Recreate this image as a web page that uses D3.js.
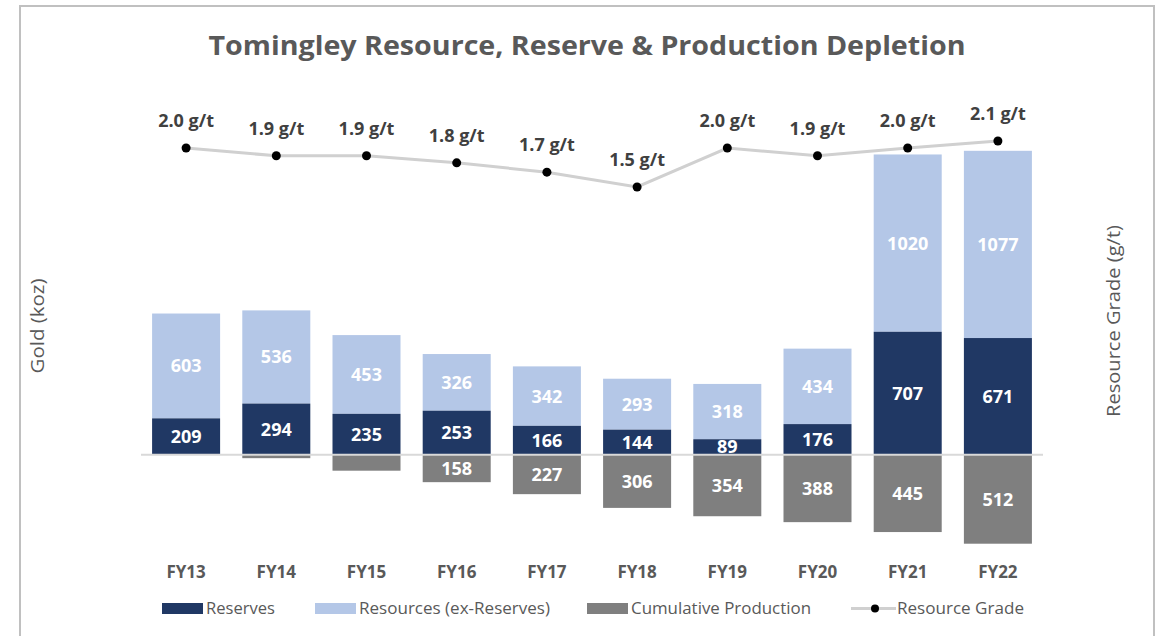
<!DOCTYPE html>
<html>
<head>
<meta charset="utf-8">
<script src="https://cdn.jsdelivr.net/npm/d3@7"></script>
<style>
  body { margin: 0; background: #fff; }
  text { font-family: "Open Sans", "DejaVu Sans", sans-serif; }
</style>
</head>
<body>
<div id="chart"></div>
<script>
var years = ["FY13", "FY14", "FY15", "FY16", "FY17", "FY18", "FY19", "FY20", "FY21", "FY22"];
var reserves = [209, 294, 235, 253, 166, 144, 89, 176, 707, 671];
var resources = [603, 536, 453, 326, 342, 293, 318, 434, 1020, 1077];
var production = [0, 20, 92, 158, 227, 306, 354, 388, 445, 512];
var grade = [2.0, 1.9, 1.9, 1.81, 1.69, 1.5, 2.0, 1.9, 2.0, 2.09];

var width = 1155, height = 636;
var navy = "#203864", light = "#b4c7e7", grey = "#7f7f7f", txt = "#595959";

var svg = d3.select("#chart").append("svg")
    .attr("width", width)
    .attr("height", height);

// frame
svg.append("rect")
    .attr("x", 20).attr("y", 6)
    .attr("width", 1134).attr("height", 650)
    .attr("fill", "none")
    .attr("stroke", "#c0c0c0")
    .attr("stroke-width", 2);

var x = d3.scaleBand()
    .domain(years)
    .range([141, 1043])
    .paddingInner(0.246)
    .paddingOuter(0.123);

var y = d3.scaleLinear()
    .domain([-600, 2000])
    .range([559, 107]);

var yGrade = d3.scaleLinear()
    .domain([0, 2.5])
    .range([304, 109]);

svg.append("text")
    .attr("x", 587).attr("y", 55)
    .attr("text-anchor", "middle")
    .attr("font-size", 27)
    .attr("font-weight", "bold")
    .attr("fill", txt)
    .attr("textLength", 757)
    .attr("lengthAdjust", "spacingAndGlyphs")
    .text("Tomingley Resource, Reserve & Production Depletion");

// stacked bars
var g = svg.append("g");

g.selectAll(".res").data(years).enter().append("rect")
    .attr("x", function(d) { return x(d); })
    .attr("width", x.bandwidth())
    .attr("y", function(d, i) { return y(reserves[i] + resources[i]); })
    .attr("height", function(d, i) { return y(reserves[i]) - y(reserves[i] + resources[i]); })
    .attr("fill", light);

g.selectAll(".rsv").data(years).enter().append("rect")
    .attr("x", function(d) { return x(d); })
    .attr("width", x.bandwidth())
    .attr("y", function(d, i) { return y(reserves[i]); })
    .attr("height", function(d, i) { return y(0) - y(reserves[i]); })
    .attr("fill", navy);

g.selectAll(".prod").data(years).enter().append("rect")
    .attr("x", function(d) { return x(d); })
    .attr("width", x.bandwidth())
    .attr("y", y(0))
    .attr("height", function(d, i) { return y(-production[i]) - y(0); })
    .attr("fill", grey);

// zero line
svg.append("line")
    .attr("x1", 141).attr("x2", 1043)
    .attr("y1", y(0)).attr("y2", y(0))
    .attr("stroke", "#d9d9d9")
    .attr("stroke-width", 2);

// bar labels
function labels(vals, mid, minShow) {
    g.selectAll(null).data(years).enter()
        .filter(function(d, i) { return vals[i] >= minShow; })
        .append("text")
        .attr("x", function(d) { return x(d) + x.bandwidth() / 2; })
        .attr("y", function(d) { return mid(years.indexOf(d)); })
        .attr("dy", "0.36em")
        .attr("text-anchor", "middle")
        .attr("font-size", 18)
        .attr("font-weight", "bold")
        .attr("fill", "#fff")
        .text(function(d) { return vals[years.indexOf(d)]; });
}
labels(reserves, function(i) { return y(reserves[i] / 2); }, 1);
labels(resources, function(i) { return y(reserves[i] + resources[i] / 2); }, 1);
labels(production, function(i) { return y(-production[i] / 2); }, 150);

// grade line
var line = d3.line()
    .x(function(d, i) { return x(years[i]) + x.bandwidth() / 2; })
    .y(function(d) { return yGrade(d); });

svg.append("path")
    .datum(grade)
    .attr("d", line)
    .attr("fill", "none")
    .attr("stroke", "#d0d0d0")
    .attr("stroke-width", 3);

svg.selectAll(".dot").data(grade).enter().append("circle")
    .attr("cx", function(d, i) { return x(years[i]) + x.bandwidth() / 2; })
    .attr("cy", function(d) { return yGrade(d); })
    .attr("r", 4.5)
    .attr("fill", "#000");

svg.selectAll(".glab").data(grade).enter().append("text")
    .attr("x", function(d, i) { return x(years[i]) + x.bandwidth() / 2; })
    .attr("y", function(d) { return yGrade(d) - 21; })
    .attr("text-anchor", "middle")
    .attr("font-size", 18)
    .attr("font-weight", "bold")
    .attr("fill", "#404040")
    .text(function(d) { return d3.format(".1f")(d) + " g/t"; });

// category axis labels
svg.selectAll(".cat").data(years).enter().append("text")
    .attr("x", function(d) { return x(d) + x.bandwidth() / 2; })
    .attr("y", 578)
    .attr("text-anchor", "middle")
    .attr("font-size", 17)
    .attr("font-weight", "bold")
    .attr("fill", txt)
    .text(function(d) { return d; });

// axis titles
svg.append("text")
    .attr("transform", "translate(44,326) rotate(-90)")
    .attr("text-anchor", "middle")
    .attr("font-size", 19)
    .attr("fill", txt)
    .attr("textLength", 95)
    .attr("lengthAdjust", "spacingAndGlyphs")
    .text("Gold (koz)");

svg.append("text")
    .attr("transform", "translate(1120,321) rotate(-90)")
    .attr("text-anchor", "middle")
    .attr("font-size", 19)
    .attr("fill", txt)
    .attr("textLength", 192)
    .attr("lengthAdjust", "spacingAndGlyphs")
    .text("Resource Grade (g/t)");

// legend
var legendItems = [
    {label: "Reserves", color: navy, x: 162, w: 69},
    {label: "Resources (ex-Reserves)", color: light, x: 315, w: 191},
    {label: "Cumulative Production", color: grey, x: 587, w: 180},
    {label: "Resource Grade", color: null, x: 851, w: 127}
];
var lg = svg.selectAll(".leg").data(legendItems).enter().append("g")
    .attr("transform", function(d) { return "translate(" + d.x + ",608.5)"; });

lg.filter(function(d) { return d.color; }).append("rect")
    .attr("x", 0).attr("y", -5.5)
    .attr("width", 41).attr("height", 11)
    .attr("fill", function(d) { return d.color; });

var lineItem = lg.filter(function(d) { return !d.color; });
lineItem.append("line")
    .attr("x1", 0).attr("x2", 45)
    .attr("y1", 0).attr("y2", 0)
    .attr("stroke", "#d0d0d0").attr("stroke-width", 3);
lineItem.append("circle")
    .attr("cx", 24).attr("r", 4).attr("fill", "#000");

lg.append("text")
    .attr("x", function(d) { return d.color ? 44 : 46; })
    .attr("dy", "0.36em")
    .attr("font-size", 16.5)
    .attr("fill", txt)
    .attr("textLength", function(d) { return d.w; })
    .attr("lengthAdjust", "spacingAndGlyphs")
    .text(function(d) { return d.label; });
</script>
</body>
</html>
